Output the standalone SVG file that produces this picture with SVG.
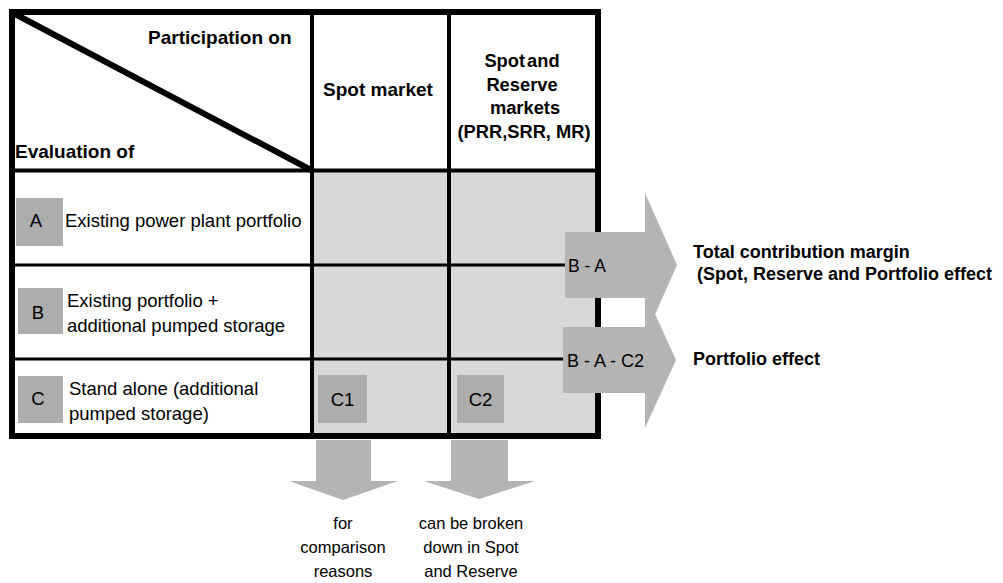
<svg xmlns="http://www.w3.org/2000/svg" width="1003" height="583" viewBox="0 0 1003 583">
<style>
text{font-family:"Liberation Sans",Arial,sans-serif;fill:#000}
.b{font-weight:bold;font-size:18.3px}
.bl{font-weight:bold;font-size:19px}
.r{font-size:18.5px}
.s{font-size:16.5px}
.m{text-anchor:middle}
.cell{fill:#d8d8d8}
.box{fill:#adadad}
.arr{fill:#b4b4b4}
.thick{stroke:#000;stroke-width:6;fill:none}
.mid{stroke:#000;stroke-width:4;fill:none}
.thin{stroke:#000;stroke-width:3;fill:none}
</style>
<rect width="1003" height="583" fill="#fff"/>
<g id="table">
<rect class="cell" x="312" y="171" width="286" height="265"/>
<line class="mid" x1="12" y1="170.5" x2="598" y2="170.5"/>
<line class="mid" x1="312" y1="12" x2="312" y2="436"/>
<line class="mid" x1="449" y1="12" x2="449" y2="436"/>
<line class="thick" x1="13" y1="13" x2="311" y2="170"/>
<rect class="thick" x="12" y="12" width="586" height="424"/>
<line class="thin" x1="12" y1="265" x2="566" y2="265"/>
<line class="thin" x1="12" y1="359" x2="564" y2="359"/>
</g>
<g id="header">
<text class="bl" x="148" y="44">Participation on</text>
<text class="bl" x="15" y="158">Evaluation of</text>
<text class="bl m" x="378" y="96">Spot market</text>
<text class="b m" x="522" y="67" style="word-spacing:-3px">Spot and</text>
<text class="b m" x="522" y="91">Reserve</text>
<text class="b m" x="525" y="114">markets</text>
<text class="b m" x="524" y="138">(PRR,SRR, MR)</text>
</g>
<g id="row-A">
<rect class="box" x="16" y="198" width="47" height="48"/>
<text class="r m" x="36" y="227">A</text>
<text class="r" x="65" y="227">Existing power plant portfolio</text>
</g>
<g id="row-B">
<rect class="box" x="18" y="288" width="45" height="46"/>
<text class="r m" x="38" y="319">B</text>
<text class="r" x="67" y="307">Existing portfolio +</text>
<text class="r" x="67" y="332">additional pumped storage</text>
</g>
<g id="row-C">
<rect class="box" x="18" y="376" width="45" height="47"/>
<text class="r m" x="38" y="405">C</text>
<text class="r" x="69" y="395">Stand alone (additional</text>
<text class="r" x="69" y="420">pumped storage)</text>
</g>
<g id="C1">
<rect class="box" x="318" y="375" width="49" height="48"/>
<text class="r m" x="342.5" y="406">C1</text>
</g>
<g id="C2">
<rect class="box" x="457" y="375" width="47" height="48"/>
<text class="r m" x="480.5" y="406">C2</text>
</g>
<g id="connectors">
<polygon class="arr" points="565,232 645,232 645,193 677,265 645,337 645,298 565,298"/>
<polygon class="arr" points="563,327 645,327 645,292 676,360 645,428 645,393 563,393"/>
<polygon class="arr" points="316,440 371,440 371,481 398,481 343,500 289,481 316,481"/>
<polygon class="arr" points="451,440 508,440 508,481 535,481 479,499 424,481 451,481"/>
</g>
<g id="arrow-labels">
<text x="568" y="272" style="font-size:17.5px">B - A</text>
<text x="567" y="367" style="font-size:18px">B - A - C2</text>
</g>
<g id="total-margin">
<text x="693" y="258" style="font-weight:bold;font-size:18px">Total contribution margin</text>
<text x="697" y="280" style="font-weight:bold;font-size:18px">(Spot, Reserve and Portfolio effect</text>
</g>
<g id="portfolio-effect">
<text x="693" y="365" style="font-weight:bold;font-size:18px">Portfolio effect</text>
</g>
<g id="note-C1">
<text class="s m" x="343" y="529">for</text>
<text class="s m" x="343" y="553">comparison</text>
<text class="s m" x="343" y="577">reasons</text>
</g>
<g id="note-C2">
<text class="s m" x="471" y="529">can be broken</text>
<text class="s m" x="471" y="553">down in Spot</text>
<text class="s m" x="471" y="577">and Reserve</text>
</g>
</svg>
